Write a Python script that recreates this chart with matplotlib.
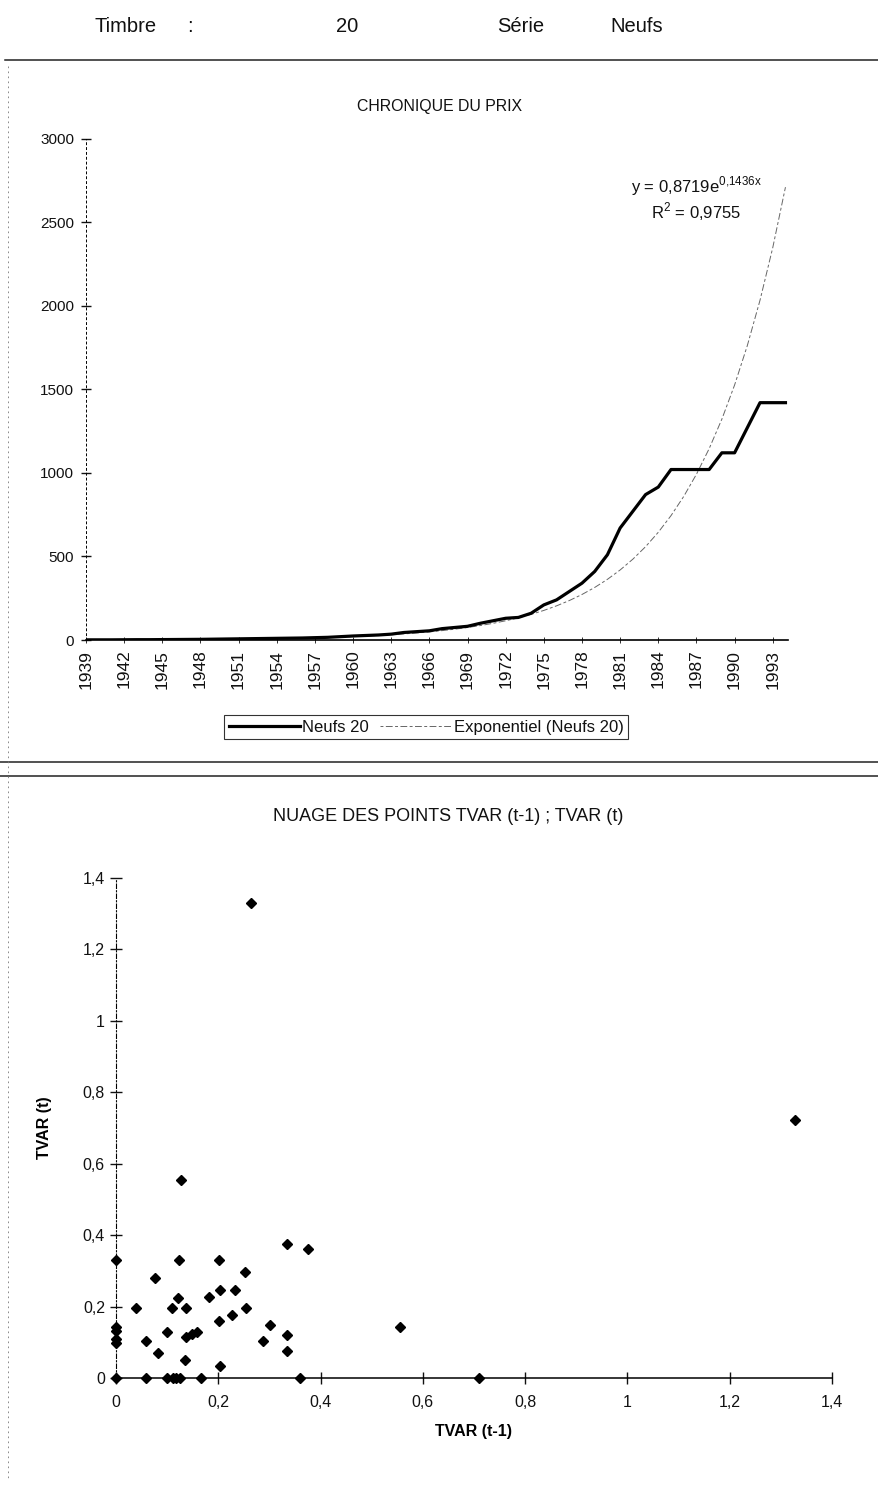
import matplotlib
matplotlib.use("Agg")
import matplotlib.pyplot as plt
from matplotlib.lines import Line2D
from matplotlib.ticker import FuncFormatter
import numpy as np

plt.rcParams['font.family'] = ['Liberation Sans', 'DejaVu Sans']
plt.rcParams['mathtext.fontset'] = 'custom'
plt.rcParams['mathtext.rm'] = 'Liberation Sans'
plt.rcParams['text.color'] = '#111111'
plt.rcParams['xtick.color'] = '#111111'
plt.rcParams['ytick.color'] = '#111111'

# --- data ---
years = list(range(1939, 1995))
prix_neufs_20 = [1, 1, 1, 1.5, 2, 2, 2.5, 3, 3.5, 4,
                 5, 6, 7, 8, 9, 10, 11, 12, 14, 16,
                 20, 24, 27, 30, 35, 45, 50, 55, 68, 75,
                 82, 100, 115, 130, 135, 160, 210, 240, 290, 340,
                 410, 510, 670, 770, 870, 915, 1020, 1020, 1020, 1020,
                 1120, 1120, 1270, 1420, 1420, 1420]

# exponential trend shown on the chart: y = 0,8719 e^(0,1436 x)
trend_a = 0.8719
trend_b = 0.1436

tvar_prev = [0, 0, 0, 0, 0, 0,
             0.059, 0.100, 0.111, 0.118, 0.125, 0.167, 0.360, 0.709,
             0.263, 1.328, 0.128, 0.334, 0.375, 0.123, 0.202, 0.076,
             0.253, 0.182, 0.203, 0.233, 0.122, 0.137, 0.109, 0.040,
             0.254, 0.202, 0.226, 0.302, 0.335, 0.288, 0.335, 0.555,
             0.059, 0.099, 0.137, 0.148, 0.158, 0.083, 0.135, 0.203]
tvar_curr = [0.331, 0.143, 0.133, 0.111, 0.100, 0,
             0, 0, 0, 0, 0, 0, 0, 0,
             1.330, 0.722, 0.555, 0.376, 0.363, 0.331, 0.331, 0.282,
             0.298, 0.227, 0.247, 0.247, 0.224, 0.196, 0.196, 0.196,
             0.196, 0.161, 0.177, 0.149, 0.121, 0.104, 0.077, 0.143,
             0.104, 0.130, 0.116, 0.123, 0.130, 0.070, 0.051, 0.035]

W, H = 879, 1486
fig = plt.figure(figsize=(W / 100, H / 100), dpi=100)


def box(x0, y0, x1, y1):
    # pixel box (top-left origin) -> figure fraction rect
    return [x0 / W, 1 - y1 / H, (x1 - x0) / W, (y1 - y0) / H]


def fx(x):
    return x / W


def fy(y):
    return 1 - y / H


# --- header ---
hdr = dict(fontsize=14.5, va='center')
fig.text(fx(95), fy(27), 'Timbre', ha='left', **hdr)
fig.text(fx(190), fy(27), ':', ha='center', **hdr)
fig.text(fx(347), fy(27), '20', ha='center', **hdr)
fig.text(fx(497), fy(27), 'Série', ha='left', **hdr)
fig.text(fx(610), fy(27), 'Neufs', ha='left', **hdr)

for yy, x0 in [(60, 5), (762, 0), (776, 0)]:
    fig.add_artist(Line2D([fx(x0), 1], [fy(yy), fy(yy)], color='#222222', lw=1.1))
fig.add_artist(Line2D([fx(8), fx(8)], [fy(66), fy(1480)], color='#777777',
                      lw=0.6, linestyle=(0, (2, 4))))

# --- chronique du prix ---
ax1 = fig.add_axes(box(86, 138.6, 788, 640))
x_idx = np.arange(1, len(years) + 1)
trend = trend_a * np.exp(trend_b * x_idx)
ax1.plot(years, prix_neufs_20, color='black', lw=2.3, solid_joinstyle='round',
         label='Neufs 20', zorder=3)
ax1.plot(years, trend, color='#666666', lw=0.7, linestyle=(0, (3, 2.5, 7, 2.5)),
         label='Exponentiel (Neufs 20)', zorder=2)
ax1.set_xlim(1939, 1994.2)
ax1.set_ylim(0, 3000)
ax1.set_xticks(years[::3])
ax1.set_xticklabels([str(y) for y in years[::3]], rotation=90, fontsize=12.5)
ax1.set_yticks(range(0, 3001, 500))
ax1.tick_params(axis='y', direction='inout', length=7, width=1, labelsize=11, pad=5)
ax1.tick_params(axis='x', direction='inout', length=4, width=0.6, pad=5)
for s in ['top', 'right']:
    ax1.spines[s].set_visible(False)
ax1.spines['left'].set_linestyle((0, (2, 3)))
ax1.spines['left'].set_linewidth(0.7)
ax1.spines['bottom'].set_linewidth(1.2)
fig.text(fx(440), fy(107), 'CHRONIQUE DU PRIX', ha='center', va='center', fontsize=11.4)
ax1.text(0.869, 0.905, r'y = 0,8719e$^{\mathregular{0{,}1436x}}$', transform=ax1.transAxes,
         ha='center', va='center', fontsize=12)
ax1.text(0.869, 0.855, r'R$^{\mathregular{2}}$ = 0,9755', transform=ax1.transAxes,
         ha='center', va='center', fontsize=12)

leg = fig.legend(loc='center', bbox_to_anchor=(fx(426), fy(727)), ncol=2,
                 frameon=True, fancybox=False, edgecolor='black', fontsize=12,
                 handlelength=4.3, handletextpad=0.1, columnspacing=0.7,
                 borderpad=0.25, borderaxespad=0)
leg.get_frame().set_linewidth(0.8)

# --- nuage des points ---
ax2 = fig.add_axes(box(116, 878, 832, 1378.3))
ax2.plot(tvar_prev, tvar_curr, linestyle='none', marker='D', ms=5.6,
         color='black', clip_on=False, zorder=3)
ax2.set_xlim(0, 1.4)
ax2.set_ylim(0, 1.4)
ticks = np.round(np.arange(0, 1.41, 0.2), 1)
ax2.set_xticks(ticks)
ax2.set_yticks(ticks)
comma = FuncFormatter(lambda v, p: f'{v:g}'.replace('.', ','))
ax2.xaxis.set_major_formatter(comma)
ax2.yaxis.set_major_formatter(comma)
ax2.tick_params(axis='both', direction='inout', length=8, width=1, labelsize=11.5)
ax2.tick_params(axis='x', pad=8)
ax2.tick_params(axis='y', pad=4)
for s in ['top', 'right']:
    ax2.spines[s].set_visible(False)
ax2.spines['left'].set_linestyle((0, (4, 2, 1, 2)))
ax2.spines['left'].set_linewidth(0.8)
ax2.spines['bottom'].set_linewidth(1.1)
ax2.set_xlabel('TVAR (t-1)', fontsize=11.5, fontweight='bold', labelpad=10)
ax2.set_ylabel('TVAR (t)', fontsize=11.5, fontweight='bold', labelpad=22)
fig.text(fx(448), fy(817), 'NUAGE DES POINTS TVAR (t-1) ; TVAR (t)',
         ha='center', va='center', fontsize=13)

fig.savefig('out.png', dpi=100)
